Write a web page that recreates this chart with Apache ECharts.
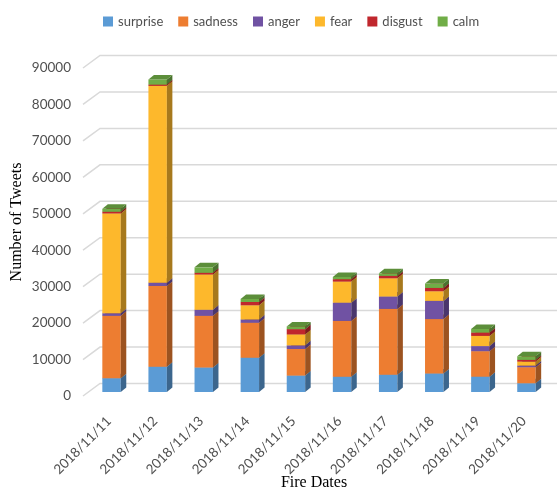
<!DOCTYPE html>
<html>
<head>
<meta charset="utf-8">
<script src="https://cdn.jsdelivr.net/npm/echarts@6/dist/echarts.min.js"></script>
<style>
  html, body { margin: 0; padding: 0; background: #fff; }
  #chart { width: 557px; height: 493px; }
</style>
</head>
<body>
<div id="chart"></div>
<script>
// Tweets per emotion for each fire date
const dates = ['2018/11/11', '2018/11/12', '2018/11/13', '2018/11/14', '2018/11/15',
               '2018/11/16', '2018/11/17', '2018/11/18', '2018/11/19', '2018/11/20'];
const surprise = [3800, 6900, 6700, 9400, 4500, 4200, 4700, 5100, 4200, 2400];
const sadness  = [17100, 22200, 14200, 9600, 7300, 15300, 18100, 14900, 7000, 4400];
const anger    = [700, 900, 1650, 900, 1000, 5000, 3400, 5000, 1400, 450];
const fear     = [27400, 54000, 9700, 3900, 3000, 5800, 5000, 2650, 2800, 1100];
const disgust  = [450, 350, 450, 900, 1450, 650, 650, 900, 900, 450];
const calm     = [800, 1400, 1500, 850, 750, 600, 700, 1200, 1000, 1000];
const yTicks   = [0, 10000, 20000, 30000, 40000, 50000, 60000, 70000, 80000, 90000];

const emotions = [
  { name: 'surprise', values: surprise, color: '#5B9BD5' },
  { name: 'sadness',  values: sadness,  color: '#ED7D31' },
  { name: 'anger',    values: anger,    color: '#7052A3' },
  { name: 'fear',     values: fear,     color: '#FDB82C' },
  { name: 'disgust',  values: disgust,  color: '#C0272D' },
  { name: 'calm',     values: calm,     color: '#70AD47' }
];

// oblique projection: floor depth and column placement within it
const FRONT_SHIFT = 3;            // front edge of the floor sits left of the category band
const FLOOR_DX = 17, FLOOR_DY = 12.5;
const INSET_X = 2.5, INSET_Y = 4;
const DEPTH_X = 5.5, DEPTH_Y = 4.5;
const BAR_RATIO = 0.4;

function shade(hex, k) {
  const n = parseInt(hex.slice(1), 16);
  const r = Math.round(((n >> 16) & 255) * k);
  const g = Math.round(((n >> 8) & 255) * k);
  const b = Math.round((n & 255) * k);
  return 'rgb(' + r + ',' + g + ',' + b + ')';
}

// stack segments: [categoryIndex, base, top]
const running = dates.map(() => 0);
const barSeries = emotions.map(e => {
  const data = e.values.map((v, i) => {
    const lo = running[i];
    running[i] += v;
    return [i, lo, running[i]];
  });
  return {
    name: e.name,
    type: 'custom',
    coordinateSystem: 'cartesian2d',
    itemStyle: { color: e.color },
    encode: { x: 0, y: [1, 2] },
    z: 3,
    data: data,
    renderItem: function (params, api) {
      const idx = api.value(0);
      const b = api.coord([idx, api.value(1)]);
      const t = api.coord([idx, api.value(2)]);
      const band = api.size([1, 0])[0];
      const w = band * BAR_RATIO;
      const xl = b[0] - w / 2 + INSET_X, xr = xl + w;
      const yb = b[1] - INSET_Y, yt = t[1] - INSET_Y;
      const c = e.color;
      return {
        type: 'group',
        children: [
          { type: 'rect', shape: { x: xl, y: yt, width: w, height: yb - yt },
            style: { fill: c } },
          { type: 'polygon',
            shape: { points: [[xr, yt], [xr + DEPTH_X, yt - DEPTH_Y], [xr + DEPTH_X, yb - DEPTH_Y], [xr, yb]] },
            style: { fill: shade(c, 0.66) } },
          { type: 'polygon',
            shape: { points: [[xl, yt], [xl + DEPTH_X, yt - DEPTH_Y], [xr + DEPTH_X, yt - DEPTH_Y], [xr, yt]] },
            style: { fill: shade(c, 0.82) } }
        ]
      };
    }
  };
});

// gridlines: short diagonal across the floor, then along the back wall
const gridSeries = {
  name: 'grid',
  type: 'custom',
  coordinateSystem: 'cartesian2d',
  silent: true,
  z: 1,
  encode: { x: 0, y: 1 },
  data: yTicks.map(v => [0, v]),
  renderItem: function (params, api) {
    const y = api.coord([0, api.value(1)])[1];
    const x0 = params.coordSys.x - FRONT_SHIFT;
    const x1 = x0 + params.coordSys.width + FLOOR_DX + 20;
    return {
      type: 'polyline',
      shape: { points: [[x0, y], [x0 + FLOOR_DX, y - FLOOR_DY], [x1, y - FLOOR_DY]] },
      style: { stroke: '#D9D9D9', lineWidth: 1.5, fill: null }
    };
  }
};

const chart = echarts.init(document.getElementById('chart'), null, { renderer: 'canvas' });
chart.setOption({
  animation: false,
  backgroundColor: '#ffffff',
  legend: {
    data: emotions.map(e => e.name),
    top: 10,
    left: 98,
    icon: 'rect',
    itemWidth: 10,
    itemHeight: 10,
    itemGap: 15,
    textStyle: { fontFamily: 'Lato', fontSize: 13, color: '#505050' }
  },
  grid: { left: 86, right: 10, top: 68, bottom: 97 },
  xAxis: {
    type: 'category',
    data: dates,
    axisLine: { show: false },
    axisTick: { show: false },
    axisLabel: {
      rotate: 45,
      margin: 23,
      interval: 0,
      fontFamily: 'Lato',
      fontSize: 13.5,
      color: '#505050'
    }
  },
  yAxis: {
    type: 'value',
    min: 0,
    max: 90000,
    interval: 10000,
    splitLine: { show: false },
    axisLine: { show: false },
    axisTick: { show: false },
    axisLabel: {
      margin: 15,
      fontFamily: 'Lato',
      fontSize: 13.5,
      color: '#505050',
      formatter: v => String(v)
    }
  },
  graphic: [
    {
      type: 'text',
      x: 17, y: 222,
      rotation: Math.PI / 2,
      style: { text: 'Number of Tweets', font: '16px "Liberation Serif"', fill: '#000',
               align: 'center', verticalAlign: 'middle' }
    },
    {
      type: 'text',
      x: 314, y: 483,
      style: { text: 'Fire Dates', font: '16px "Liberation Serif"', fill: '#000',
               align: 'center', verticalAlign: 'middle' }
    }
  ],
  series: [gridSeries].concat(barSeries)
});
</script>
</body>
</html>
